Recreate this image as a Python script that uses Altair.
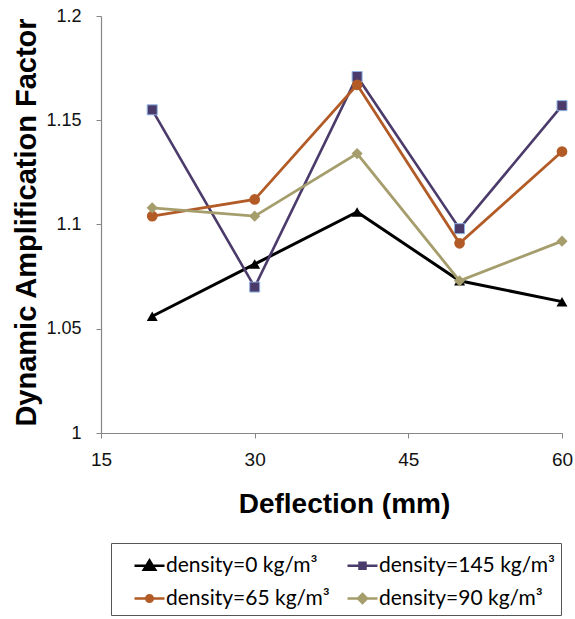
import altair as alt
import pandas as pd

# ---- data ----
deflection = [20, 30, 40, 50, 60]
daf_0 = [1.056, 1.081, 1.106, 1.073, 1.063]
daf_145 = [1.155, 1.070, 1.171, 1.098, 1.157]
daf_65 = [1.104, 1.112, 1.167, 1.091, 1.135]
daf_90 = [1.108, 1.104, 1.134, 1.073, 1.092]

series_names = ["density=0 kg/m³", "density=145 kg/m³", "density=65 kg/m³", "density=90 kg/m³"]
# legend is laid out column by column: column 1 = 0, 65 ; column 2 = 145, 90
legend_order = ["density=0 kg/m³", "density=65 kg/m³", "density=145 kg/m³", "density=90 kg/m³"]
x_ticks = [15, 30, 45, 60]
y_ticks = [1, 1.05, 1.1, 1.15, 1.2]

# ---- styles ----
colors = ["#000000", "#4b3b6b", "#b35b27", "#a59d6c"]
line_widths = [3, 2.6, 2.8, 2.8]
chart_shapes = ["triangle-up", "square", "circle", "diamond"]
point_sizes = [120, 100, 115, 125]
legend_paths = {
    "triangle-up": "M-1,0H1M0,-0.36L0.38,0.26L-0.38,0.26Z",
    "square": "M-1,0H1M-0.2,-0.2H0.2V0.2H-0.2Z",
    "circle": "M-1,0H1M-0.22,0A0.22,0.22,0,1,0,0.22,0A0.22,0.22,0,1,0,-0.22,0Z",
    "diamond": "M-1,0H1M0,-0.3L0.3,0L0,0.3L-0.3,0Z",
}
shape_of = dict(zip(series_names, chart_shapes))
color_of = dict(zip(series_names, colors))

rows = []
for name, vals in zip(series_names, [daf_0, daf_145, daf_65, daf_90]):
    for xv, yv in zip(deflection, vals):
        rows.append({"Deflection": xv, "DAF": yv, "series": name})
df = pd.DataFrame(rows)

FONT = "Liberation Sans"

xenc = alt.X(
    "Deflection:Q",
    scale=alt.Scale(domain=[15, 60], nice=False, zero=False),
    axis=alt.Axis(
        values=x_ticks, title="Deflection (mm)", grid=False,
        domainColor="#868686", tickColor="#868686", tickSize=5, domainWidth=1.2,
        labelFont=FONT, labelFontSize=19, labelColor="#111", labelPadding=12,
        labelFlush=False,
        titleFont=FONT, titleFontSize=28, titleFontWeight="bold", titleColor="#000",
        titleX=243, titleY=79, titleBaseline="alphabetic", titleAlign="center",
    ),
)
yenc = alt.Y(
    "DAF:Q",
    scale=alt.Scale(domain=[1, 1.2], nice=False, zero=False),
    axis=alt.Axis(
        values=y_ticks, format="~g", title="Dynamic Amplification Factor", grid=False,
        domainColor="#868686", tickColor="#868686", tickSize=5, domainWidth=1.2,
        labelFont=FONT, labelFontSize=18, labelColor="#111", labelPadding=15,
        labelFlush=False,
        titleFont=FONT, titleFontSize=29, titleFontWeight="bold", titleColor="#000",
        titleX=-66, titleY=206, titleBaseline="alphabetic", titleAlign="center", titleAngle=270,
    ),
)

base = alt.Chart(df)
layers = []
for name, c, w, s, sz in zip(series_names, colors, line_widths, chart_shapes, point_sizes):
    sub = base.transform_filter(alt.datum.series == name)
    layers.append(sub.mark_line(color=c, strokeWidth=w).encode(x=xenc, y=yenc))
    if s == "square":
        pt = sub.mark_point(shape=s, filled=True, fill=c, stroke="#8fb4e3", strokeWidth=1, size=sz, opacity=1)
    else:
        pt = sub.mark_point(shape=s, filled=True, fill=c, size=sz, opacity=1)
    layers.append(pt.encode(x=xenc, y=yenc))

leg = alt.Legend(
    title=None, orient="none", legendX=10, legendY=527, columns=2,
    labelFont="Lato", labelFontSize=21, labelColor="#000", labelOffset=0,
    symbolSize=900, symbolStrokeWidth=2.5, symbolOpacity=1, symbolOffset=16,
    strokeColor="#555", padding=6, columnPadding=0, rowPadding=6,
    labelLimit=300,
)
leg_colors = [color_of[n] for n in legend_order]
leg_paths = [legend_paths[shape_of[n]] for n in legend_order]
legend_layer = base.mark_point(opacity=0, filled=True).encode(
    x=xenc, y=yenc,
    fill=alt.Fill("series:N", scale=alt.Scale(domain=legend_order, range=leg_colors), legend=leg),
    stroke=alt.Stroke("series:N", scale=alt.Scale(domain=legend_order, range=leg_colors), legend=leg),
    shape=alt.Shape("series:N", scale=alt.Scale(domain=legend_order, range=leg_paths), legend=leg),
)

chart = alt.layer(legend_layer, *layers).properties(
    width=461, height=417,
    autosize=alt.AutoSizeParams(type="none"),
    padding={"left": 101, "top": 16, "right": 13, "bottom": 186},
    background="white",
).configure_view(stroke=None)

chart.save("out.html", embed_options={"renderer": "svg", "actions": False})
